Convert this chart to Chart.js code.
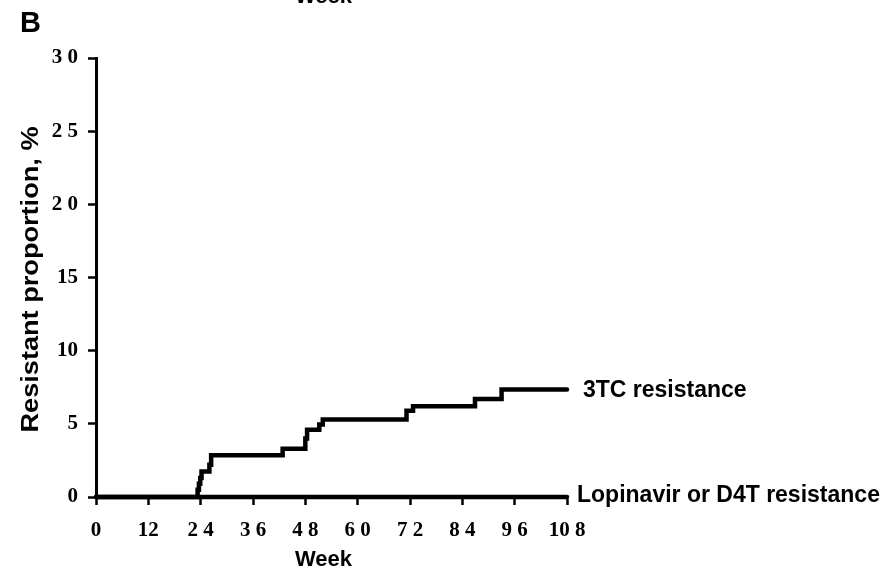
<!DOCTYPE html>
<html>
<head>
<meta charset="utf-8">
<script src="https://cdn.jsdelivr.net/npm/chart.js@4.4.1/dist/chart.umd.min.js"></script>
<style>
	body { margin: 0; background: #ffffff; }
	#chart { display: block; }
</style>
</head>
<body>
<canvas id="chart" width="891" height="571"></canvas>
<script>
// Week axis ticks and the labels printed under them (the scan has spaced digits)
const weekTicks = [0, 12, 24, 36, 48, 60, 72, 84, 96, 108];
const weekTickLabels = ["0", "12", "2 4", "3 6", "4 8", "6 0", "7 2", "8 4", "9 6", "10 8"];

// Percent axis ticks and labels
const pctTicks = [0, 5, 10, 15, 20, 25, 30];
const pctTickLabels = ["0", "5", "10", "15", "2 0", "2 5", "3 0"];

// 3TC resistance: step curve (week of event, proportion after the event)
const weeks3TC = [0, 23.3, 23.6, 23.9, 24.2, 26.0, 26.4, 42.8, 48.0, 48.4, 51.2, 52.0, 71.2, 72.7, 86.9, 93.0, 108];
const pct3TC   = [0, 0.5, 0.9, 1.3, 1.75, 2.2, 2.85, 3.3, 4.0, 4.6, 4.95, 5.3, 5.9, 6.2, 6.7, 7.35, 7.35];

// Lopinavir or D4T resistance: stays at zero
const weeksLPV = [0, 108];
const pctLPV   = [0, 0];

const seriesNames = ["3TC resistance", "Lopinavir or D4T resistance"];

// Merge x / y arrays into points for the linear x scale
function toPoints(xs, ys) {
	const pts = [];
	for (var i = 0; i < xs.length; i++) {
		pts.push({ x: xs[i], y: ys[i] });
	}
	return pts;
}

// Texts around the plot: panel letter, axis titles, series labels
const textPlugin = {
	id: 'texts',
	afterDraw(chart) {
		const ctx = chart.ctx;
		const area = chart.chartArea;
		const xs = chart.scales.x;
		const ys = chart.scales.y;
		ctx.save();
		ctx.fillStyle = '#000';

		// panel letter
		ctx.font = 'bold 29px "Liberation Sans", Arial, sans-serif';
		ctx.textAlign = 'left';
		ctx.textBaseline = 'alphabetic';
		ctx.fillText('B', 20, 32);

		// cut-off axis title of the panel above
		ctx.font = 'bold 22px "Liberation Sans", Arial, sans-serif';
		ctx.textAlign = 'center';
		ctx.fillText('Week', (area.left + area.right) / 2 - 8, 2.5);

		// x axis title
		ctx.textBaseline = 'middle';
		ctx.fillText('Week', (area.left + area.right) / 2 - 8, 560);

		// y axis title (stretched like the scan)
		ctx.save();
		ctx.font = 'bold 24px "Liberation Sans", Arial, sans-serif';
		ctx.translate(31, (area.top + area.bottom) / 2 + 2);
		ctx.rotate(-Math.PI / 2);
		const w = ctx.measureText('Resistant proportion, %').width;
		ctx.scale(306 / w, 1);
		ctx.fillText('Resistant proportion, %', 0, 0);
		ctx.restore();

		// series labels at the end of each curve
		ctx.font = 'bold 23px "Liberation Sans", Arial, sans-serif';
		ctx.textAlign = 'left';
		ctx.textBaseline = 'middle';
		const xEnd = xs.getPixelForValue(weeks3TC[weeks3TC.length - 1]);
		ctx.fillText(seriesNames[0], xEnd + 16, ys.getPixelForValue(pct3TC[pct3TC.length - 1]) + 1);
		ctx.fillText(seriesNames[1], xEnd + 10, ys.getPixelForValue(pctLPV[pctLPV.length - 1]) - 1);
		ctx.restore();
	}
};

const tickFont = { family: '"Liberation Serif", "Times New Roman", serif', size: 21, weight: 'bold' };

new Chart(document.getElementById('chart'), {
	type: 'line',
	data: {
		datasets: [
			{
				label: seriesNames[0],
				data: toPoints(weeks3TC, pct3TC),
				stepped: 'before',
				borderColor: '#000',
				borderWidth: 4.5,
				borderCapStyle: 'round',
				pointRadius: 0,
				fill: false,
				clip: false
			},
			{
				label: seriesNames[1],
				data: toPoints(weeksLPV, pctLPV),
				borderColor: '#000',
				borderWidth: 4.5,
				borderCapStyle: 'round',
				pointRadius: 0,
				fill: false,
				clip: false
			}
		]
	},
	options: {
		responsive: false,
		devicePixelRatio: 1,
		animation: false,
		layout: { padding: { left: 0, top: 58, right: 324, bottom: 0 } },
		plugins: {
			legend: { display: false },
			tooltip: { enabled: false }
		},
		scales: {
			x: {
				type: 'linear',
				min: 0,
				max: 108,
				afterFit: (scale) => { scale.height = 74; },
				afterBuildTicks: (scale) => { scale.ticks = weekTicks.map(v => ({ value: v })); },
				border: { display: true, color: '#000', width: 3 },
				grid: { display: true, drawOnChartArea: false, drawTicks: true, tickLength: 8, tickWidth: 2.5, color: '#000' },
				ticks: {
					color: '#000',
					font: tickFont,
					padding: 13,
					maxRotation: 0,
					autoSkip: false,
					callback: (v) => weekTickLabels[weekTicks.indexOf(v)]
				}
			},
			y: {
				type: 'linear',
				min: 0,
				max: 30,
				afterFit: (scale) => { scale.width = 96; },
				afterBuildTicks: (scale) => { scale.ticks = pctTicks.map(v => ({ value: v })); },
				border: { display: true, color: '#000', width: 3 },
				grid: { display: true, drawOnChartArea: false, drawTicks: true, tickLength: 8, tickWidth: 2.5, color: '#000' },
				ticks: {
					color: '#000',
					font: tickFont,
					padding: 10,
					autoSkip: false,
					callback: (v) => pctTickLabels[pctTicks.indexOf(v)]
				}
			}
		}
	},
	plugins: [textPlugin]
});
</script>
</body>
</html>
